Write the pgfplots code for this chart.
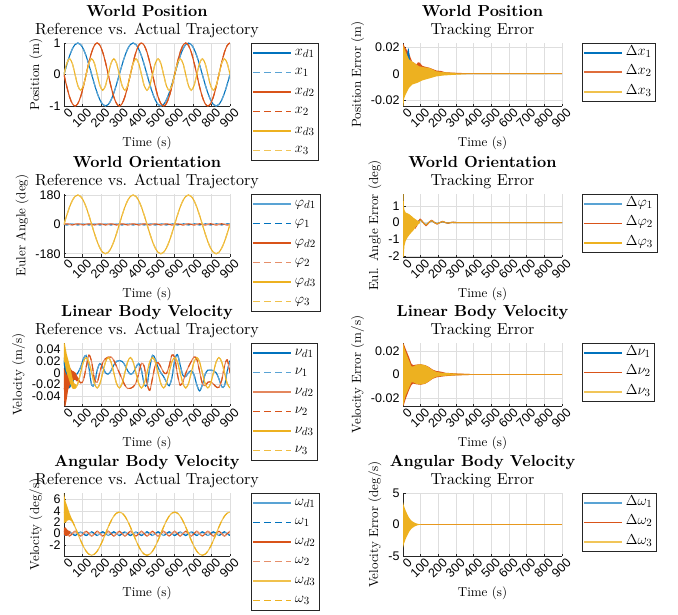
\documentclass[border=0pt]{standalone}
\usepackage{fontspec}
\setmainfont{lmroman10-regular.otf}[BoldFont=lmroman10-bold.otf, ItalicFont=lmroman10-italic.otf]
\usepackage{pgfplots}
\usepackage{pgfplotstable}
\pgfplotsset{compat=1.18}
\newfontfamily\ticksf{Liberation Sans}
\definecolor{mB}{rgb}{0,0.447,0.741}
\definecolor{mO}{rgb}{0.850,0.325,0.098}
\definecolor{mY}{rgb}{0.929,0.694,0.125}

\pgfplotstableread{
t xa xb xc pa pb pc na nb nc oa ob oc
0 0 0 0 0 0 0 0.02094 -0.02618 0.02618 -0.32 0.42 3.77
15 0.309 -0.383 0.354 -3 4 55.6 -0.00871 -0.03010 0.01851 0 0 3.585
30 0.588 -0.707 0.5 0 0 105.8 -0.02242 -0.01127 0 0.32 -0.42 3.05
45 0.809 -0.924 0.354 3 -4 145.6 -0.01582 0.00131 -0.01851 0 0 2.216
60 0.951 -1 0 0 0 171.2 -0.00639 -0.00099 -0.02618 -0.32 0.42 1.165
75 1 -0.924 -0.354 -3 4 180 0 -0.01002 -0.01851 0 0 0
90 0.951 -0.707 -0.5 0 0 171.2 0.00922 -0.01730 0 0.32 -0.42 -1.165
105 0.809 -0.383 -0.354 3 -4 145.6 0.02383 -0.01300 0.01851 0 0 -2.216
120 0.588 0 0 0 0 105.8 0.02980 0.00918 0.02618 -0.32 0.42 -3.05
135 0.309 0.383 0.354 -3 4 55.6 0.00871 0.03010 0.01851 0 0 -3.585
150 0 0.707 0.5 0 0 0 -0.02094 0.01851 0 0.32 -0.42 -3.77
165 -0.309 0.924 0.354 3 -4 -55.6 -0.01952 -0.01077 -0.01851 0 0 -3.585
180 -0.588 1 0 0 0 -105.8 0.00461 -0.01630 -0.02618 -0.32 0.42 -3.05
195 -0.809 0.924 -0.354 -3 4 -145.6 0.01582 0.00131 -0.01851 0 0 -2.216
210 -0.951 0.707 -0.5 0 0 -171.2 0.00922 0.01730 0 0.32 -0.42 -1.165
225 -1 0.383 -0.354 3 -4 -180 0 0.02419 0.01851 0 0 0
240 -0.951 0 0 0 0 -171.2 -0.00238 0.02686 0.02618 -0.32 0.42 1.165
255 -0.809 -0.383 0.354 -3 4 -145.6 0.00351 0.02692 0.01851 0 0 2.216
270 -0.588 -0.707 0.5 0 0 -105.8 0.01320 0.02133 0 0.32 -0.42 3.05
285 -0.309 -0.924 0.354 3 -4 -55.6 0.01952 0.01077 -0.01851 0 0 3.585
300 0 -1 0 0 0 0 0.02094 0 -0.02618 -0.32 0.42 3.77
315 0.309 -0.924 -0.354 -3 4 55.6 0.01952 -0.01077 -0.01851 0 0 3.585
330 0.588 -0.707 -0.5 0 0 105.8 0.01320 -0.02133 0 0.32 -0.42 3.05
345 0.809 -0.383 -0.354 3 -4 145.6 0.00351 -0.02692 0.01851 0 0 2.216
360 0.951 0 0 0 0 171.2 -0.00238 -0.02686 0.02618 -0.32 0.42 1.165
375 1 0.383 0.354 -3 4 180 0 -0.02419 0.01851 0 0 0
390 0.951 0.707 0.5 0 0 171.2 0.00922 -0.01730 0 0.32 -0.42 -1.165
405 0.809 0.924 0.354 3 -4 145.6 0.01582 -0.00131 -0.01851 0 0 -2.216
420 0.588 1 0 0 0 105.8 0.00461 0.01630 -0.02618 -0.32 0.42 -3.05
435 0.309 0.924 -0.354 -3 4 55.6 -0.01952 0.01077 -0.01851 0 0 -3.585
450 0 0.707 -0.5 0 0 0 -0.02094 -0.01851 0 0.32 -0.42 -3.77
465 -0.309 0.383 -0.354 3 -4 -55.6 0.00871 -0.03010 0.01851 0 0 -3.585
480 -0.588 0 0 0 0 -105.8 0.02980 -0.00918 0.02618 -0.32 0.42 -3.05
495 -0.809 -0.383 0.354 -3 4 -145.6 0.02383 0.01300 0.01851 0 0 -2.216
510 -0.951 -0.707 0.5 0 0 -171.2 0.00922 0.01730 0 0.32 -0.42 -1.165
525 -1 -0.924 0.354 3 -4 -180 0 0.01002 -0.01851 0 0 0
540 -0.951 -1 0 0 0 -171.2 -0.00639 0.00099 -0.02618 -0.32 0.42 1.165
555 -0.809 -0.924 -0.354 -3 4 -145.6 -0.01582 -0.00131 -0.01851 0 0 2.216
570 -0.588 -0.707 -0.5 0 0 -105.8 -0.02242 0.01127 0 0.32 -0.42 3.05
585 -0.309 -0.383 -0.354 3 -4 -55.6 -0.00871 0.03010 0.01851 0 0 3.585
600 0 0 0 0 0 0 0.02094 0.02618 0.02618 -0.32 0.42 3.77
615 0.309 0.383 0.354 -3 4 55.6 0.03121 -0.00276 0.01851 0 0 3.585
630 0.588 0.707 0.5 0 0 105.8 0.01320 -0.02133 0 0.32 -0.42 3.05
645 0.809 0.924 0.354 3 -4 145.6 -0.00450 -0.01523 -0.01851 0 0 2.216
660 0.951 1 0 0 0 171.2 -0.00639 -0.00099 -0.02618 -0.32 0.42 1.165
675 1 0.924 -0.354 -3 4 180 0 0.01002 -0.01851 0 0 0
690 0.951 0.707 -0.5 0 0 171.2 0.00356 0.01928 0 0.32 -0.42 -1.165
705 0.809 0.383 -0.354 3 -4 145.6 -0.00351 0.02692 0.01851 0 0 -2.216
720 0.588 0 0 0 0 105.8 -0.02058 0.02342 0.02618 -0.32 0.42 -3.05
735 0.309 -0.383 0.354 -3 4 55.6 -0.03121 0.00276 0.01851 0 0 -3.585
750 0 -0.707 0.5 0 0 0 -0.02094 -0.01851 0 0.32 -0.42 -3.77
765 -0.309 -0.924 0.354 3 -4 -55.6 -0.00298 -0.02209 -0.01851 0 0 -3.585
780 -0.588 -1 0 0 0 -105.8 0.00461 -0.01630 -0.02618 -0.32 0.42 -3.05
795 -0.809 -0.924 -0.354 -3 4 -145.6 0.00450 -0.01523 -0.01851 0 0 -2.216
810 -0.951 -0.707 -0.5 0 0 -171.2 0.00356 -0.01928 0 0.32 -0.42 -1.165
825 -1 -0.383 -0.354 3 -4 -180 0 -0.02419 0.01851 0 0 0
840 -0.951 0 0 0 0 -171.2 -0.01040 -0.02488 0.02618 -0.32 0.42 1.165
855 -0.809 0.383 0.354 -3 4 -145.6 -0.02383 -0.01300 0.01851 0 0 2.216
870 -0.588 0.707 0.5 0 0 -105.8 -0.02242 0.01127 0 0.32 -0.42 3.05
885 -0.309 0.924 0.354 3 -4 -55.6 0.00298 0.02209 -0.01851 0 0 3.585
900 0 1 0 0 0 0 0.02094 0 -0.02618 -0.32 0.42 3.77
}\refdata

\pgfplotsset{
  mybase/.style={
    scale only axis, height=63pt,
    xmin=0, xmax=900,
    xtick={0,100,200,300,400,500,600,700,800,900},
    xticklabels={0,100,200,300,400,500,600,700,800,900},
    scaled ticks=false,
    grid=major, major grid style={black!13, line width=0.5pt},
    axis lines*=left,
    axis line style={black!85, line width=0.6pt},
    tick align=inside, major tick length=2.5pt, tick style={black!85, line width=0.5pt},
    xlabel={Time (s)},
    label style={font=\fontsize{13}{13}\selectfont},
    tick label style={font=\ticksf\fontsize{12.5}{12.5}\selectfont},
    xticklabel style={rotate=45, anchor=east, xshift=5pt, yshift=-8pt},
    title style={align=center, font=\fontsize{16}{18}\selectfont, yshift=-4pt},
    legend style={at={(1.127,1)}, anchor=north west, draw=black!85, line width=0.6pt,
      font=\fontsize{15}{15}\selectfont, row sep=2.5pt, inner sep=1pt,
      nodes={inner sep=3pt, text height=8pt, text depth=3pt}},
    legend cell align=left,
    legend image code/.code={\draw[line width=1.6pt,##1] (0pt,0pt) -- (38pt,0pt);},
    every axis plot/.append style={line width=1.1pt},
  },
  leftax/.style={mybase, width=166pt},
  rightax/.style={mybase, width=159pt, legend style={at={(1.126,1)}}},
  act/.style={dash pattern=on 7pt off 4pt},
}

\begin{document}
\begin{tikzpicture}
\path[use as bounding box] (0pt,0pt) rectangle (678pt,-615pt);

% ---------------- Row 1 left
\begin{axis}[leftax, at={(64pt,-43pt)}, anchor=north west,
  ymin=-1, ymax=1, ytick={-1,0,1}, yticklabels={-1,0,1},
  ylabel={Position (m)},
  title={\textbf{World Position}\\Reference vs. Actual Trajectory}]
\addplot[mB, smooth] table[x=t,y=xa]{\refdata};
\addplot[mB!65, act, smooth] table[x=t,y=xa]{\refdata};
\addplot[mO, smooth] table[x=t,y=xb]{\refdata};
\addplot[mO, act, smooth] table[x=t,y=xb]{\refdata};
\addplot[mY, smooth] table[x=t,y=xc]{\refdata};
\addplot[mY!75, act, smooth] table[x=t,y=xc]{\refdata};
\legend{$x_{d1}$,$x_1$,$x_{d2}$,$x_2$,$x_{d3}$,$x_3$}
\end{axis}

% ---------------- Row 1 right
\begin{axis}[rightax, at={(403pt,-43pt)}, anchor=north west,
  ymin=-0.0245, ymax=0.0235, ytick={-0.02,0,0.02}, yticklabels={-0.02,0,0.02},
  ylabel={Position Error (m)},
  title={\textbf{World Position}\\Tracking Error}]
\addlegendimage{mB}
\addlegendimage{mO!85}
\addlegendimage{mY!80}
\addplot[mB, forget plot] coordinates {(0,0) (900,0)};
\addplot[fill=mO, draw=none, forget plot] coordinates {(0,0) (0,0.0235) (8,0.021) (15,0.0195) (25,0.0175) (34,0.016) (44,0.012) (53,0.009) (63,0.0085) (75,0.007) (85,0.0088) (95,0.0085) (110,0.006) (150,0.0046) (190,0.0025) (215,0.0022) (240,0.0012) (300,0.0008) (400,0.0003) (900,0.0002) (900,0)};
\addplot[fill=mB, draw=none, forget plot] coordinates {(18,0) (20,0.008) (25,0.016) (28,0.019) (32,0.0195) (36,0.015) (40,0.01) (44,0)};
\addplot[fill=mY, draw=none, forget plot] coordinates {(0,0.022) (15,0.017) (34,0.011) (63,0.0084) (91,0.0058) (120,0.005) (149,0.0046) (168,0.0033) (187,0.002) (225,0.0013) (282,0.0008) (358,0.0003) (450,0.0001) (900,0.0001) (900,-0.0001) (450,-0.0002) (358,-0.0003) (282,-0.0008) (225,-0.0013) (187,-0.002) (149,-0.0035) (110,-0.005) (82,-0.0068) (53,-0.0081) (34,-0.0106) (15,-0.0157) (6,-0.019) (3,-0.0245) (0,-0.0245)};
\addplot[mO, forget plot] coordinates {(300,0) (900,0)};
\addplot[mY, opacity=0.7, forget plot] coordinates {(0,0) (900,0)};
\legend{$\Delta x_1$,$\Delta x_2$,$\Delta x_3$}
\end{axis}

% ---------------- Row 2 left
\begin{axis}[leftax, at={(64pt,-194pt)}, anchor=north west,
  ymin=-200, ymax=186, ytick={-180,0,180}, yticklabels={-180,0,180},
  ylabel={Euler Angle (deg)},
  title={\textbf{World Orientation}\\Reference vs. Actual Trajectory}]
\addplot[mB!65, smooth] table[x=t,y=pa]{\refdata};
\addplot[mB, act, smooth] table[x=t,y=pa]{\refdata};
\addplot[mO, smooth] table[x=t,y=pb]{\refdata};
\addplot[mO!65, act, smooth] table[x=t,y=pb]{\refdata};
\addplot[mY, smooth] table[x=t,y=pc]{\refdata};
\addplot[mY!80, act, smooth] table[x=t,y=pc]{\refdata};
\legend{$\varphi_{d1}$,$\varphi_1$,$\varphi_{d2}$,$\varphi_2$,$\varphi_{d3}$,$\varphi_3$}
\end{axis}

% ---------------- Row 2 right
\begin{axis}[rightax, at={(403pt,-194pt)}, anchor=north west,
  ymin=-2.05, ymax=1.7, ytick={-2,-1,0,1}, yticklabels={-2,-1,0,1},
  ylabel={Eul. Angle Error (deg)},
  title={\textbf{World Orientation}\\Tracking Error}]
\addlegendimage{mB!65}
\addlegendimage{mO}
\addlegendimage{mY}
\addplot[mB, smooth, forget plot] coordinates {(0,0) (50,-0.02) (69,-0.15) (83,0) (97,0.15) (113,0.01) (130,-0.12) (146,0) (162,0.1) (178,0) (193,-0.06) (209,0) (225,0.05) (240,0) (255,-0.03) (270,0) (285,0.015) (300,0) (320,0) (900,0)};
\addplot[mO, smooth, forget plot] coordinates {(0,0) (40,-0.02) (53,-0.12) (69,-0.32) (83,-0.05) (97,0.2) (113,0.02) (130,-0.18) (146,-0.01) (162,0.13) (178,0) (193,-0.09) (209,0) (225,0.07) (240,0) (255,-0.04) (270,0) (285,0.02) (300,0) (320,0) (900,0)};
\addplot[fill=mY, draw=none, forget plot] coordinates {(0,1.7) (3,1.7) (5,1.0) (8,0.75) (15,0.6) (25,0.55) (35,0.5) (47,0.4) (60,0.28) (75,0.17) (85,0.1) (95,0.04) (95,-0.04) (85,-0.12) (75,-0.22) (60,-0.45) (47,-0.6) (35,-0.75) (25,-0.9) (15,-1.1) (8,-1.4) (4,-2.05) (0,-2.05)};
\addplot[mY, opacity=0.75, smooth, forget plot] coordinates {(90,0.03) (100,0.14) (113,0.01) (130,-0.13) (146,0) (162,0.11) (178,0) (193,-0.07) (209,0) (225,0.06) (240,0) (255,-0.03) (270,0) (285,0.015) (300,0) (320,0) (900,0)};
\legend{$\Delta\varphi_1$,$\Delta\varphi_2$,$\Delta\varphi_3$}
\end{axis}

% ---------------- Row 3 left
\begin{axis}[leftax, at={(64pt,-343pt)}, anchor=north west,
  ymin=-0.057, ymax=0.051, ytick={-0.04,-0.02,0,0.02,0.04}, yticklabels={-0.04,-0.02,0,0.02,0.04},
  ylabel={Velocity (m/s)},
  title={\textbf{Linear Body Velocity}\\Reference vs. Actual Trajectory}]
\addplot[mB, smooth] table[x=t,y=na]{\refdata};
\addplot[mB!65, act, smooth] table[x=t,y=na]{\refdata};
\addplot[fill=mB, draw=none, forget plot] coordinates {(0,0.025) (10,0.012) (20,-0.002) (30,-0.012) (45,-0.01) (60,-0.003) (60,-0.009) (45,-0.02) (30,-0.027) (20,-0.02) (10,-0.005) (0,0.012)};
\addplot[mO!70, smooth] table[x=t,y=nb]{\refdata};
\addplot[mO, act, smooth] table[x=t,y=nb]{\refdata};
\addplot[fill=mO, draw=none, forget plot] coordinates {(0,0.008) (8,0.0) (15,-0.005) (22,0.014) (30,0.01) (40,0.005) (50,0.002) (60,0.0) (70,-0.006) (80,-0.01) (80,-0.014) (70,-0.015) (60,-0.012) (50,-0.012) (40,-0.015) (30,-0.022) (22,-0.03) (15,-0.045) (8,-0.057) (2,-0.057) (0,-0.03)};
\addplot[mY, smooth] table[x=t,y=nc]{\refdata};
\addplot[mY!85, act, smooth] table[x=t,y=nc]{\refdata};
\addplot[fill=mY, draw=none, forget plot] coordinates {(0,0.051) (5,0.05) (10,0.04) (15,0.032) (25,0.02) (35,0.008) (45,-0.008) (55,-0.018) (65,-0.02) (65,-0.026) (55,-0.028) (45,-0.027) (35,-0.02) (25,-0.01) (15,0.0) (10,0.005) (5,0.015) (0,0.02)};
\legend{$\nu_{d1}$,$\nu_1$,$\nu_{d2}$,$\nu_2$,$\nu_{d3}$,$\nu_3$}
\end{axis}

% ---------------- Row 3 right
\begin{axis}[rightax, at={(403pt,-343pt)}, anchor=north west,
  ymin=-0.027, ymax=0.027, ytick={-0.02,0,0.02}, yticklabels={-0.02,0,0.02},
  ylabel={Velocity Error (m/s)},
  title={\textbf{Linear Body Velocity}\\Tracking Error}]
\addlegendimage{mB}
\addlegendimage{mO}
\addlegendimage{mY!75}
\addplot[mB, forget plot] coordinates {(0,0) (900,0)};
\addplot[fill=mO, draw=none, forget plot] coordinates {(0,0.027) (5,0.026) (15,0.022) (34,0.015) (47,0.0095) (57,0.008) (75,0.0085) (100,0.0088) (125,0.008) (145,0.0066) (168,0.0042) (189,0.003) (210,0.0026) (240,0.0015) (300,0.0009) (400,0.0003) (900,0.0001) (900,-0.0001) (400,-0.0003) (300,-0.0008) (240,-0.0014) (210,-0.002) (189,-0.0025) (168,-0.0037) (145,-0.0062) (125,-0.008) (100,-0.0088) (75,-0.0084) (57,-0.0078) (47,-0.0092) (34,-0.0135) (15,-0.021) (5,-0.026) (0,-0.027)};
\addplot[fill=mY, draw=none, forget plot] coordinates {(0,0.027) (5,0.024) (15,0.0195) (34,0.012) (47,0.007) (57,0.0068) (75,0.0082) (100,0.0088) (125,0.008) (145,0.0063) (168,0.0038) (189,0.0022) (225,0.0014) (300,0.0008) (400,0.0003) (500,0.0001) (900,0.0001) (900,-0.0001) (500,-0.0001) (400,-0.0003) (300,-0.0007) (225,-0.0012) (189,-0.0019) (168,-0.0034) (145,-0.006) (125,-0.0078) (100,-0.0086) (75,-0.008) (57,-0.0066) (47,-0.0068) (34,-0.0115) (15,-0.018) (5,-0.024) (0,-0.027)};
\addplot[mO, forget plot] coordinates {(300,0) (900,0)};
\addplot[mY, opacity=0.7, forget plot] coordinates {(0,0) (900,0)};
\legend{$\Delta\nu_1$,$\Delta\nu_2$,$\Delta\nu_3$}
\end{axis}

% ---------------- Row 4 left
\begin{axis}[leftax, at={(64pt,-493pt)}, anchor=north west,
  ymin=-3.9, ymax=7.1, ytick={-2,0,2,4,6}, yticklabels={-2,0,2,4,6},
  ylabel={Velocity (deg/s)},
  title={\textbf{Angular Body Velocity}\\Reference vs. Actual Trajectory}]
\addplot[mB!65, smooth] table[x=t,y=oa]{\refdata};
\addplot[mB, act, smooth] table[x=t,y=oa]{\refdata};
\addplot[mO, smooth] table[x=t,y=ob]{\refdata};
\addplot[mO!65, act, smooth] table[x=t,y=ob]{\refdata};
\addplot[fill=mO, draw=none, forget plot] coordinates {(0,1.0) (8,1.1) (15,0.8) (25,0.5) (35,0.45) (35,0) (25,-0.2) (15,-0.4) (8,-0.4) (0,-0.2)};
\addplot[mY!80, smooth] table[x=t,y=oc]{\refdata};
\addplot[mY, act, smooth] table[x=t,y=oc]{\refdata};
\addplot[fill=mY, draw=none, forget plot] coordinates {(0,7.1) (5,6.2) (10,5.5) (20,4.6) (30,3.6) (40,2.8) (50,2.0) (50,1.7) (40,2.2) (30,2.4) (20,2.3) (10,2.0) (0,1.8)};
\legend{$\omega_{d1}$,$\omega_1$,$\omega_{d2}$,$\omega_2$,$\omega_{d3}$,$\omega_3$}
\end{axis}

% ---------------- Row 4 right
\begin{axis}[rightax, at={(403pt,-493pt)}, anchor=north west,
  ymin=-5, ymax=5, ytick={-5,0,5}, yticklabels={-5,0,5},
  ylabel={Velocity Error (deg/s)},
  title={\textbf{Angular Body Velocity}\\Tracking Error}]
\addlegendimage{mB!65}
\addlegendimage{mO}
\addlegendimage{mY!75}
\addplot[mB, forget plot] coordinates {(0,0) (900,0)};
\addplot[mO, forget plot] coordinates {(0,0) (900,0)};
\addplot[fill=mY, draw=none, forget plot] coordinates {(0,3.6) (5,3.0) (15,2.2) (25,1.6) (34,1.1) (45,0.7) (53,0.5) (65,0.3) (73,0.2) (85,0.1) (95,0.05) (110,0.02) (900,0.02) (900,-0.02) (110,-0.02) (95,-0.05) (85,-0.1) (73,-0.22) (65,-0.33) (53,-0.55) (45,-0.75) (34,-1.2) (25,-1.7) (15,-2.3) (5,-3.1) (0,-3.75)};
\addplot[mY, opacity=0.6, forget plot] coordinates {(0,0) (900,0)};
\legend{$\Delta\omega_1$,$\Delta\omega_2$,$\Delta\omega_3$}
\end{axis}
\end{tikzpicture}
\end{document}
